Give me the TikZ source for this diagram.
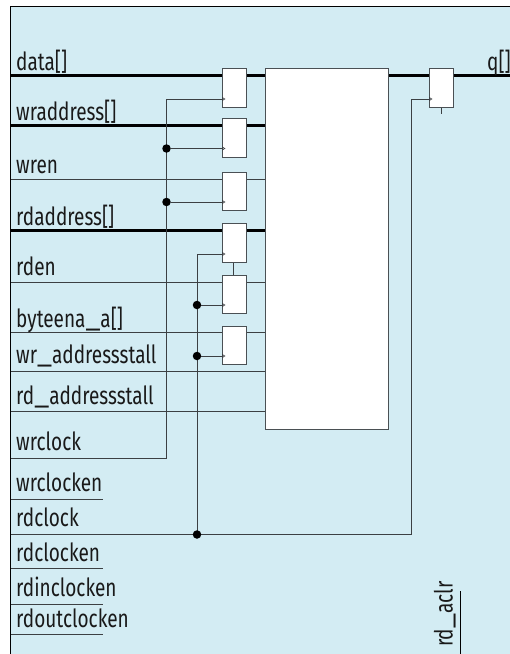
\documentclass[tikz,border=0pt]{standalone}
\usepackage{fontspec}
\setmainfont[FakeStretch=0.76]{Fira Sans}
\newfontfamily\widebar[FakeStretch=1.15]{Fira Sans}
\newcommand{\ubar}{{\widebar\_}}
\usetikzlibrary{arrows.meta}
\pgfdeclarelayer{panelbg}
\pgfdeclarelayer{wires}
\pgfsetlayers{panelbg,wires,main}
\definecolor{panel}{HTML}{D3ECF3}
\definecolor{wirethin}{HTML}{3C4043}
\definecolor{boxedge}{HTML}{4A5054}
\tikzset{
  reg/.style={draw=boxedge,line width=0.9pt,fill=white,minimum width=23.5pt,minimum height=38.5pt,inner sep=0pt,anchor=north west},
  mem/.style={draw=boxedge,line width=0.9pt,fill=white,minimum width=123pt,minimum height=361pt,inner sep=0pt,anchor=north west},
  lab/.style={font=\fontsize{25}{27}\selectfont,anchor=base west,inner sep=0pt,text=black!90},
  bus/.style={draw=black,line width=3pt},
  wire/.style={draw=wirethin,line width=1pt},
  clockwire/.style={draw=wirethin,line width=1pt,-{Triangle[open,length=3.5pt,width=4pt,line width=0.7pt]}},
  jdot/.style={circle,fill=black,inner sep=0pt,minimum size=8.5pt}
}
\begin{document}
\begin{tikzpicture}[x=1pt,y=-1pt]
\useasboundingbox (0,0) rectangle (510,654);
\begin{pgfonlayer}{panelbg}
\fill[panel] (10.5,6) rectangle (510,654);
\draw[black,line width=1pt] (510,6) -- (10.5,6) -- (10.5,654);
\end{pgfonlayer}
% storage
\node[mem] (mem) at (265,68) {};
\node[reg] (r1) at (222,68) {};
\node[reg] (r2) at (222,118) {};
\node[reg] (r3) at (222,171.5) {};
\node[reg] (r4) at (222,223) {};
\node[reg] (r5) at (222,274.5) {};
\node[reg] (r6) at (222,325.5) {};
\node[reg] (rq) at (429,68) {};
% free ends
\coordinate (idata) at (10.5,75.5);
\coordinate (iwra) at (10.5,125.5);
\coordinate (iwren) at (10.5,179);
\coordinate (irda) at (10.5,230.5);
\coordinate (irden) at (10.5,282);
\coordinate (ibyte) at (10.5,332.5);
\coordinate (iwrs) at (10.5,371);
\coordinate (irds) at (10.5,411);
\coordinate (iwck) at (10.5,458);
\coordinate (iwcke) at (10.5,499.5);
\coordinate (owcke) at (103,499.5);
\coordinate (irck) at (10.5,534.5);
\coordinate (ircke) at (10.5,568.5);
\coordinate (orcke) at (103,568.5);
\coordinate (irin) at (10.5,604);
\coordinate (orin) at (103,604);
\coordinate (irout) at (10.5,634);
\coordinate (orout) at (103,634);
\coordinate (oq) at (510,75.5);
\coordinate (aclrt) at (460.5,591);
\coordinate (aclrb) at (460.5,654);
\coordinate (stub) at (441,114);
\coordinate (wbend) at (166.5,458);
\coordinate (wtop) at (166.5,99);
\coordinate (rtop) at (197,254);
\coordinate (rbend) at (197,534.5);
\coordinate (qbend) at (411.5,534.5);
\coordinate (qtop) at (411.5,99);
\coordinate (t1) at (225.5,99);
\coordinate (t2) at (225.5,148.5);
\coordinate (t3) at (225.5,202);
\coordinate (t4) at (225.5,254);
\coordinate (t5) at (225.5,305);
\coordinate (t6) at (225.5,356);
\coordinate (tq) at (432.5,99);
\coordinate (l45a) at (233.5,261.5);
\coordinate (l45b) at (233.5,274.5);
% junctions
\node[jdot] (j1) at (166.5,148.5) {};
\node[jdot] (j2) at (166.5,202) {};
\node[jdot] (j3) at (197,305) {};
\node[jdot] (j4) at (197,356) {};
\node[jdot] (j5) at (197,534.5) {};
\begin{pgfonlayer}{wires}
\path[bus] (idata) -- (idata -| mem.west);
\path[bus] (iwra) -- (iwra -| mem.west);
\path[bus] (irda) -- (irda -| mem.west);
\path[bus] (idata -| mem.east) -- (oq);
\path[wire] (iwren) -- (iwren -| mem.west);
\path[wire] (irden) -- (irden -| mem.west);
\path[wire] (ibyte) -- (ibyte -| mem.west);
\path[wire] (iwrs) -- (iwrs -| mem.west);
\path[wire] (irds) -- (irds -| mem.west);
\path[wire] (iwcke) -- (owcke);
\path[wire] (ircke) -- (orcke);
\path[wire] (irin) -- (orin);
\path[wire] (irout) -- (orout);
\path[wire] (iwck) -- (wbend) -- (wtop);
\path[wire] (irck) -- (qbend) -- (qtop);
\path[wire] (rbend) -- (rtop);
\path[wire] (l45a) -- (l45b);
\path[wire] (stub |- rq.south) -- (stub);
\path[draw=black,line width=1pt] (aclrt) -- (aclrb);
\end{pgfonlayer}
\path[clockwire] (wtop) -- (t1);
\path[clockwire] (j1) -- (t2);
\path[clockwire] (j2) -- (t3);
\path[clockwire] (rtop) -- (t4);
\path[clockwire] (j3) -- (t5);
\path[clockwire] (j4) -- (t6);
\path[clockwire] (qtop) -- (tq);
% labels
\node[lab] (ldata) at (16,70) {data[]};
\node[lab] (lwra) at (16,120) {wraddress[]};
\node[lab] (lwren) at (16,173) {wren};
\node[lab] (lrda) at (16,225) {rdaddress[]};
\node[lab] (lrden) at (16,275) {rden};
\node[lab] (lbyte) at (16,327) {byteena\ubar a[]};
\node[lab] (lwrs) at (16,363) {wr\ubar addressstall};
\node[lab] (lrds) at (16,404) {rd\ubar addressstall};
\node[lab] (lwck) at (16,450) {wrclock};
\node[lab] (lwcke) at (16,491) {wrclocken};
\node[lab] (lrck) at (16,526) {rdclock};
\node[lab] (lrcke) at (16,561) {rdclocken};
\node[lab] (lrin) at (16,596) {rdinclocken};
\node[lab] (lrout) at (16,627) {rdoutclocken};
\node[lab] (lq) at (487,70) {q[]};
\node[lab,rotate=90] (laclr) at (452.5,647) {rd\ubar aclr};
\end{tikzpicture}
\end{document}
